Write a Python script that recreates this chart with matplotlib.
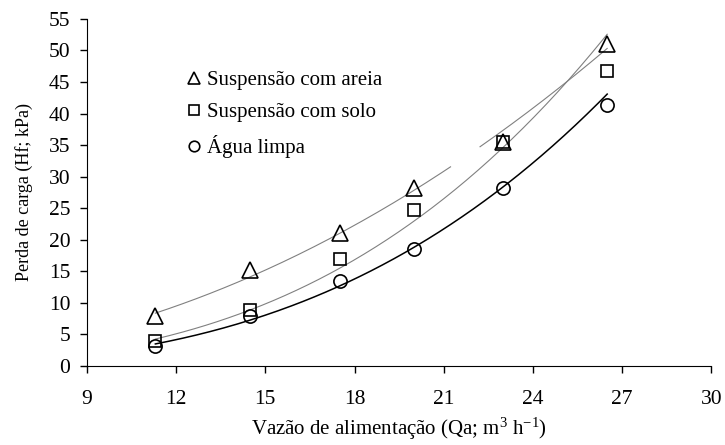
import numpy as np
import matplotlib
matplotlib.use("Agg")
import matplotlib.pyplot as plt

plt.rcParams['font.family'] = ['Liberation Serif', 'DejaVu Serif']
plt.rcParams['mathtext.fontset'] = 'custom'
plt.rcParams['mathtext.rm'] = 'Liberation Serif'
plt.rcParams['mathtext.it'] = 'Liberation Serif:italic'

# vazao de alimentacao (m3/h)
qa = [11.3, 14.5, 17.5, 20.0, 23.0, 26.5]
# perda de carga (kPa)
areia = [8.0, 15.2, 21.0, 28.2, 35.5, 51.0]
solo = [4.0, 8.8, 17.0, 24.8, 35.5, 46.8]
limpa = [3.2, 8.0, 13.5, 18.5, 28.2, 41.3]

labels = ['Suspensão com areia', 'Suspensão com solo', 'Água limpa']
xticks = [9, 12, 15, 18, 21, 24, 27, 30]
yticks = list(range(0, 56, 5))


def power_fit(x, y):
    # linha de tendencia tipo potencia (y = a x^b)
    b, lna = np.polyfit(np.log(x), np.log(y), 1)
    xx = np.linspace(min(x), max(x), 200)
    return xx, np.exp(lna) * xx ** b


fig = plt.figure(figsize=(7.25, 4.45), dpi=100)
ax = fig.add_axes([0.12, 0.1775, 0.861, 0.78])

xx, ya = power_fit(qa, areia)
ya = np.where((xx > 21.3) & (xx < 22.2), np.nan, ya)   # falha na linha do original
ax.plot(xx, ya, color='#808080', lw=0.8)
xx, ys = power_fit(qa, solo)
ax.plot(xx, ys, color='#808080', lw=0.8)
xx, yl = power_fit(qa, limpa)
ax.plot(xx, yl, color='black', lw=1.1)

ax.plot(qa, areia, '^', ms=11, mfc='none', mec='black', mew=1.2, ls='none', label=labels[0])
ax.plot(qa, solo, 's', ms=9, mfc='none', mec='black', mew=1.2, ls='none', label=labels[1])
ax.plot(qa, limpa, 'o', ms=9.5, mfc='none', mec='black', mew=1.2, ls='none', label=labels[2])

ax.set_xlim(9, 30)
ax.set_ylim(0, 55)
ax.set_xticks(xticks)
ax.set_yticks(yticks)
ax.spines['top'].set_visible(False)
ax.spines['right'].set_visible(False)
ax.tick_params(direction='out', length=5, labelsize=15.5, width=1)
ax.tick_params(axis='x', pad=12)
ax.tick_params(axis='y', pad=7)

ax.set_xlabel('Vazão de alimentação (Qa; m$^3$ h$^{-1}$)', fontsize=15, labelpad=5)
ax.set_ylabel('Perda de carga (Hf; kPa)', fontsize=13, labelpad=11)

ax.legend(loc='upper left', bbox_to_anchor=(0.122, 0.905), frameon=False, fontsize=15,
          handletextpad=0.0, handlelength=1.2, labelspacing=0.6, markerscale=0.8)

fig.savefig('out.png', dpi=100)
